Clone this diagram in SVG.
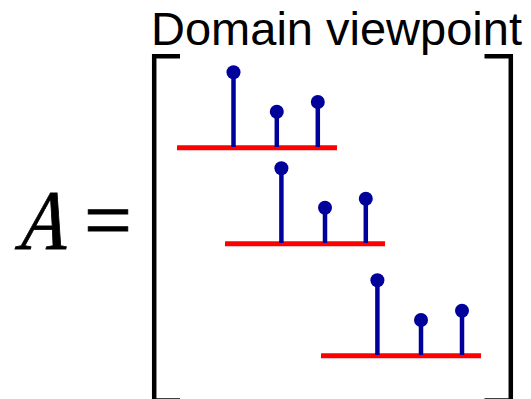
<svg xmlns="http://www.w3.org/2000/svg" width="531" height="399" viewBox="0 0 531 399">
  <style>
    .brk { fill: none; stroke: #000; stroke-width: 4.5; stroke-linecap: butt; stroke-linejoin: miter; }
    .axis { stroke: #ff0000; stroke-width: 5; }
    .stem { stroke: #00009a; stroke-width: 4.5; }
    .dot { fill: #00009a; }
    .title { font-family: "Liberation Sans", Arial, sans-serif; font-size: 47px; fill: #000; }
    .math { font-family: "Liberation Serif", "Times New Roman", serif; font-size: 85px; fill: #000; stroke: #000; stroke-width: 0.9; }
  </style>
  <rect width="531" height="399" fill="#fff"/>
  <g id="title">
    <text class="title" x="336.5" y="45" text-anchor="middle">Domain viewpoint</text>
  </g>
  <g id="lhs">
    <text class="math" transform="translate(15,249) skewX(-14) scale(0.85,1)" x="-1" y="0">A</text>
    <text class="math" x="84" y="249">=</text>
  </g>
  <g id="brackets">
    <path class="brk" d="M180,56.2 H154.2 V400.6 H180"/>
    <path class="brk" d="M484.5,56.2 H510.8 V400.6 H484.5"/>
  </g>
  <g id="row1">
    <line class="axis" x1="177" y1="147.7" x2="337" y2="147.7"/>
    <line class="stem" x1="233.5" y1="72" x2="233.5" y2="147"/>
    <line class="stem" x1="276.8" y1="112" x2="276.8" y2="147"/>
    <line class="stem" x1="317.8" y1="102" x2="317.8" y2="147"/>
    <circle class="dot" cx="233.5" cy="72.3" r="7"/>
    <circle class="dot" cx="276.8" cy="111.7" r="7"/>
    <circle class="dot" cx="317.8" cy="102" r="7"/>
  </g>
  <g id="row2">
    <line class="axis" x1="225" y1="243.7" x2="385" y2="243.7"/>
    <line class="stem" x1="281.4" y1="168" x2="281.4" y2="243"/>
    <line class="stem" x1="325" y1="208" x2="325" y2="243"/>
    <line class="stem" x1="365.8" y1="199" x2="365.8" y2="243"/>
    <circle class="dot" cx="281.4" cy="168.3" r="7"/>
    <circle class="dot" cx="325" cy="207.7" r="7"/>
    <circle class="dot" cx="365.8" cy="198.7" r="7"/>
  </g>
  <g id="row3">
    <line class="axis" x1="321" y1="355.7" x2="481" y2="355.7"/>
    <line class="stem" x1="377.4" y1="280" x2="377.4" y2="355"/>
    <line class="stem" x1="421" y1="320" x2="421" y2="355"/>
    <line class="stem" x1="462" y1="311" x2="462" y2="355"/>
    <circle class="dot" cx="377.4" cy="280.3" r="7"/>
    <circle class="dot" cx="421" cy="320" r="7"/>
    <circle class="dot" cx="462" cy="310.7" r="7"/>
  </g>
</svg>
